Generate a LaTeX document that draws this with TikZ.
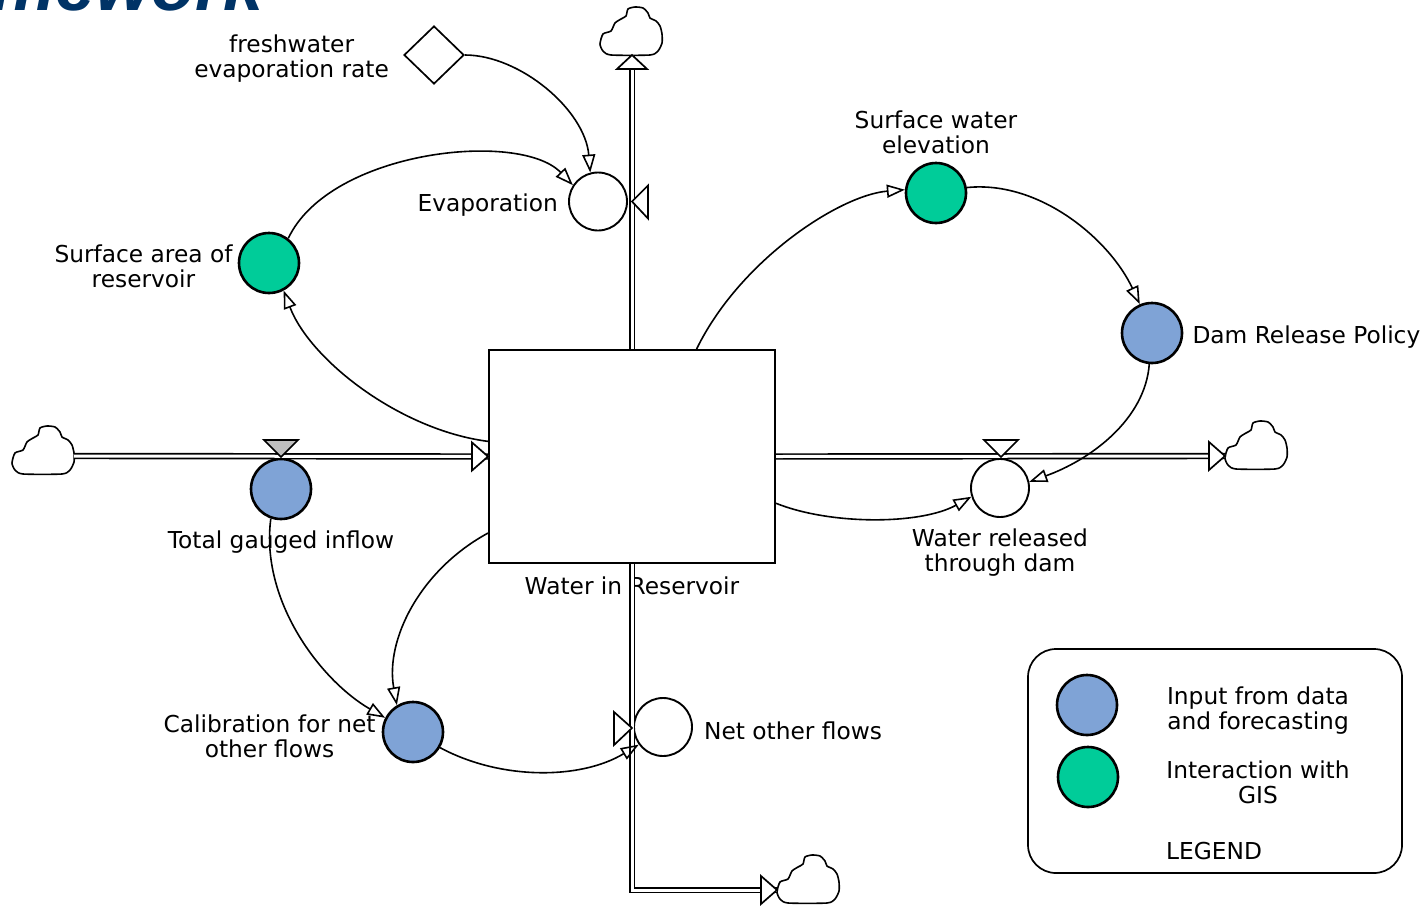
\documentclass[tikz,border=0pt]{standalone}
\usepackage{fontspec}
\setmainfont{DejaVu Sans}
\newfontfamily\titlefont{Liberation Sans}
\usetikzlibrary{arrows.meta,positioning,shapes.geometric}

\definecolor{inputblue}{RGB}{127,163,214}
\definecolor{gisgreen}{RGB}{0,204,153}
\definecolor{titleblue}{RGB}{0,51,102}
\definecolor{valvegray}{RGB}{191,191,191}

\tikzset{cloudlet/.pic={
    \draw[line width=1.6pt, fill=white] plot[smooth cycle, tension=0.4] coordinates
      {(-28,2) (-20,-1) (-16,-9) (-10,-13) (-5,-16) (-3,-23) (4,-25) (12,-24) (17,-19) (19,-14)
       (25,-11) (29,-6) (31,2) (31,11) (27,19) (19,23) (-20,23) (-28,19) (-31,12)};
}}

\begin{document}
\begin{tikzpicture}[x=1pt,y=-1pt,
    every node/.style={font=\fontsize{23.3}{25}\selectfont, inner sep=0pt},
    stock/.style={draw, line width=2pt, fill=white, minimum width=286pt, minimum height=213pt},
    aux/.style={circle, draw, line width=2.6pt, minimum size=60pt},
    valve/.style={circle, draw, line width=1.9pt, minimum size=58pt},
    konst/.style={diamond, draw, line width=1.7pt, minimum width=60pt, minimum height=58pt},
    link/.style={line width=1.6pt, -{Triangle[open, length=18pt, width=13pt, line width=1.6pt]}},
    pipe/.style={double, line width=1.7pt, double distance=3pt},
    tip/.style={draw, fill=white, line width=1.7pt},
    lbl/.style={align=center}]
  \useasboundingbox (0,0) rectangle (1426,905);

  \node[font=\titlefont\bfseries\itshape\fontsize{72}{72}\selectfont, text=titleblue,
        anchor=base east] (title) at (264,10) {Framework};

  % stock, flows and auxiliaries
  \node[stock] (res) at (632,456.5) {};
  \node[konst] (rate) at (434,55) {};
  \node[valve] (evap) at (598,201.5) {};
  \node[aux, fill=gisgreen] (area) at (269,263) {};
  \node[aux, fill=inputblue] (inflow) at (281,489) {};
  \node[valve] (rel) at (1000,488) {};
  \node[aux, fill=gisgreen] (elev) at (936,193) {};
  \node[aux, fill=inputblue] (policy) at (1152,333) {};
  \node[valve] (net) at (663,727) {};
  \node[aux, fill=inputblue] (calib) at (413,732) {};

  \node[lbl, below=13pt of res] (resL) {Water in Reservoir};
  \node[lbl, left=14pt of rate, yshift=-4pt] (rateL) {freshwater\\evaporation rate};
  \node[lbl, left=10pt of evap, yshift=-4pt] (evapL) {Evaporation};
  \node[lbl, left=5pt of area, yshift=-3pt] (areaL) {Surface area of\\reservoir};
  \node[lbl, below=10pt of inflow] (inflowL) {Total gauged inflow};
  \node[lbl, below=11pt of rel] (relL) {Water released\\through dam};
  \node[lbl, above=8pt of elev] (elevL) {Surface water\\elevation};
  \node[lbl, right=9pt of policy, yshift=-4pt] (policyL) {Dam Release Policy};
  \node[lbl, right=11pt of net, yshift=-4pt] (netL) {Net other flows};
  \node[lbl, left=6pt of calib, yshift=-4pt] (calibL) {Calibration for net\\other flows};

  % clouds
  \pic at (43,451) {cloudlet};   \coordinate (srcL) at (74,456);
  \pic at (1256,446) {cloudlet}; \coordinate (snkR) at (1225,456);
  \pic at (631,32) {cloudlet};   \coordinate (snkT) at (632,55);
  \pic at (808,880) {cloudlet};  \coordinate (snkB) at (777,890);

  % pipes
  \draw[pipe] (srcL) -- (res.west);
  \draw[pipe] (res.east) -- (snkR);
  \draw[pipe] (res.north) -- (snkT);
  \draw[pipe] (res.south) |- (snkB);
  \draw[tip] (res.west) -- ++(-16,-14) -- ++(0,28) -- cycle;
  \draw[tip] (snkR) -- ++(-16,-14) -- ++(0,28) -- cycle;
  \draw[tip] (snkT) -- ++(-15,14) -- ++(30,0) -- cycle;
  \draw[tip] (snkB) -- ++(-16,-14) -- ++(0,28) -- cycle;

  % valves
  \draw[tip] (632,201.5) -- ++(16,-16) -- ++(0,33) -- cycle;
  \draw[tip, fill=valvegray] (281,457) -- ++(-17,-17) -- ++(34,0) -- cycle;
  \draw[tip] (1001,457) -- ++(-17,-17) -- ++(34,0) -- cycle;
  \draw[tip] (632,728) -- ++(-18,-16) -- ++(0,33) -- cycle;

  % links
  \draw[link] (rate.east) .. controls (520,55) and (585,110) .. (evap.105);
  \draw[link] (area.52) .. controls (330,150) and (520,130) .. (evap.147);
  \draw[link] (res.174) .. controls (400,430) and (310,360) .. (area.-62);
  \draw[link] (res.59) .. controls (740,260) and (840,195) .. (elev.174);
  \draw[link] (elev.10) .. controls (1040,180) and (1110,240) .. (policy.113);
  \draw[link] (policy.-95) .. controls (1145,420) and (1090,460) .. (rel.12);
  \draw[link] (res.-18) .. controls (830,525) and (920,525) .. (rel.197);
  \draw[link] (inflow.-109) .. controls (260,600) and (320,680) .. (calib.153);
  \draw[link] (res.208) .. controls (420,570) and (385,640) .. (calib.121);
  \draw[link] (calib.-30) .. controls (500,780) and (580,780) .. (net.216);

  % legend
  \node[draw, line width=1.7pt, rounded corners=28pt, minimum width=374pt,
        minimum height=224pt] (legend) at (1215,761) {};
  \node[aux, fill=inputblue] (keyIn) at (1087,705) {};
  \node[aux, fill=gisgreen] (keyGis) at (1088,777) {};
  \node[lbl] (keyInL) at (1258,711) {Input from data\\and forecasting};
  \node[lbl] (keyGisL) at (1258,782) {Interaction with\\GIS};
  \node (legendL) at (1214,851) {LEGEND};
\end{tikzpicture}
\end{document}
